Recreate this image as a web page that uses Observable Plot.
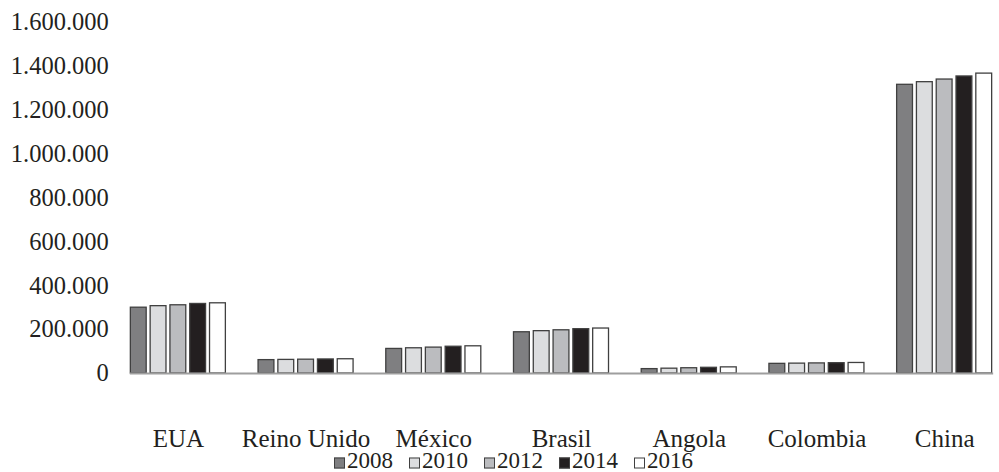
<!DOCTYPE html>
<html>
<head>
<meta charset="utf-8">
<script src="https://cdn.jsdelivr.net/npm/d3@7"></script>
<script src="https://cdn.jsdelivr.net/npm/@observablehq/plot@0.6"></script>
<style>
  html, body { margin: 0; padding: 0; background: #fff; overflow: hidden; }
  #wrap { position: relative; width: 999px; height: 472px; overflow: hidden; }
  #chart svg { max-width: none !important; display: block; }
  #legend { position: absolute; left: 0; top: 453px; display: flex; justify-content: center; align-items: center; width: 999px; height: 16px; line-height: 16px; font-family: 'Liberation Serif', serif; font-size: 23px; color: #231f20; padding-left: 28px; box-sizing: border-box; }
  .item { display: flex; align-items: center; margin: 0 8px; }
  .sw { width: 9px; height: 9px; border: 1px solid #404040; margin-right: 2px; transform: translateY(1.5px); }
</style>
</head>
<body>
<div id="wrap">
<div id="chart"></div>
<div id="legend"></div>
</div>
<script>
const countries = ["EUA", "Reino Unido", "México", "Brasil", "Angola", "Colombia", "China"];
const years = ["2008", "2010", "2012", "2014", "2016"];
const v2008 = [300000, 61000, 112000, 188000, 20000, 44000, 1316000];
const v2010 = [307000, 62000, 115000, 193000, 22000, 45000, 1328000];
const v2012 = [311000, 63000, 118000, 197000, 24000, 46000, 1340000];
const v2014 = [317000, 64000, 122000, 202000, 26000, 47000, 1354000];
const v2016 = [320000, 65000, 124000, 205000, 28000, 48000, 1367000];
const yTicks = [0, 200000, 400000, 600000, 800000, 1000000, 1200000, 1400000, 1600000];
const colors = ["#7f7f81", "#dcdddf", "#bbbcbf", "#231f20", "#ffffff"];

const series = [v2008, v2010, v2012, v2014, v2016];
const data = [];
countries.forEach((c, i) => years.forEach((y, j) => data.push({country: c, year: y, value: series[j][i]})));

const loc = d3.formatLocale({decimal: ",", thousands: ".", grouping: [3], currency: ["", ""]});
const fmt = loc.format(",d");

const chart = Plot.plot({
  width: 1008,
  height: 472,
  marginLeft: 114,
  marginRight: 0,
  marginTop: 22,
  marginBottom: 99,
  style: {fontFamily: "'Liberation Serif', serif", color: "#231f20", background: "#fff"},
  fx: {domain: countries, paddingInner: 0.256, paddingOuter: 0.128, round: false, label: null},
  x: {domain: years, paddingInner: 0.2, paddingOuter: 0, round: false, axis: null},
  y: {domain: [0, 1600000], label: null},
  color: {domain: years, range: colors},
  marks: [
    Plot.axisY({ticks: yTicks, tickFormat: fmt, tickSize: 0, tickPadding: 22, fontSize: 24.5, label: null}),
    Plot.axisFx({anchor: "bottom", tickSize: 0, tickPadding: 56, fontSize: 25, label: null}),
    Plot.barY(data, {fx: "country", x: "year", y: "value", fill: "year", stroke: "#404040", strokeWidth: 1.3}),
    Plot.frame({anchor: "bottom", facet: "super", stroke: "#9e9e9e", strokeWidth: 2})
  ]
});
document.getElementById("chart").appendChild(chart);

const legend = document.getElementById("legend");
years.forEach((y, i) => {
  const it = document.createElement("div");
  it.className = "item";
  const sw = document.createElement("div");
  sw.className = "sw";
  sw.style.background = colors[i];
  it.appendChild(sw);
  const t = document.createElement("span");
  t.textContent = y;
  it.appendChild(t);
  legend.appendChild(it);
});
</script>
</body>
</html>
